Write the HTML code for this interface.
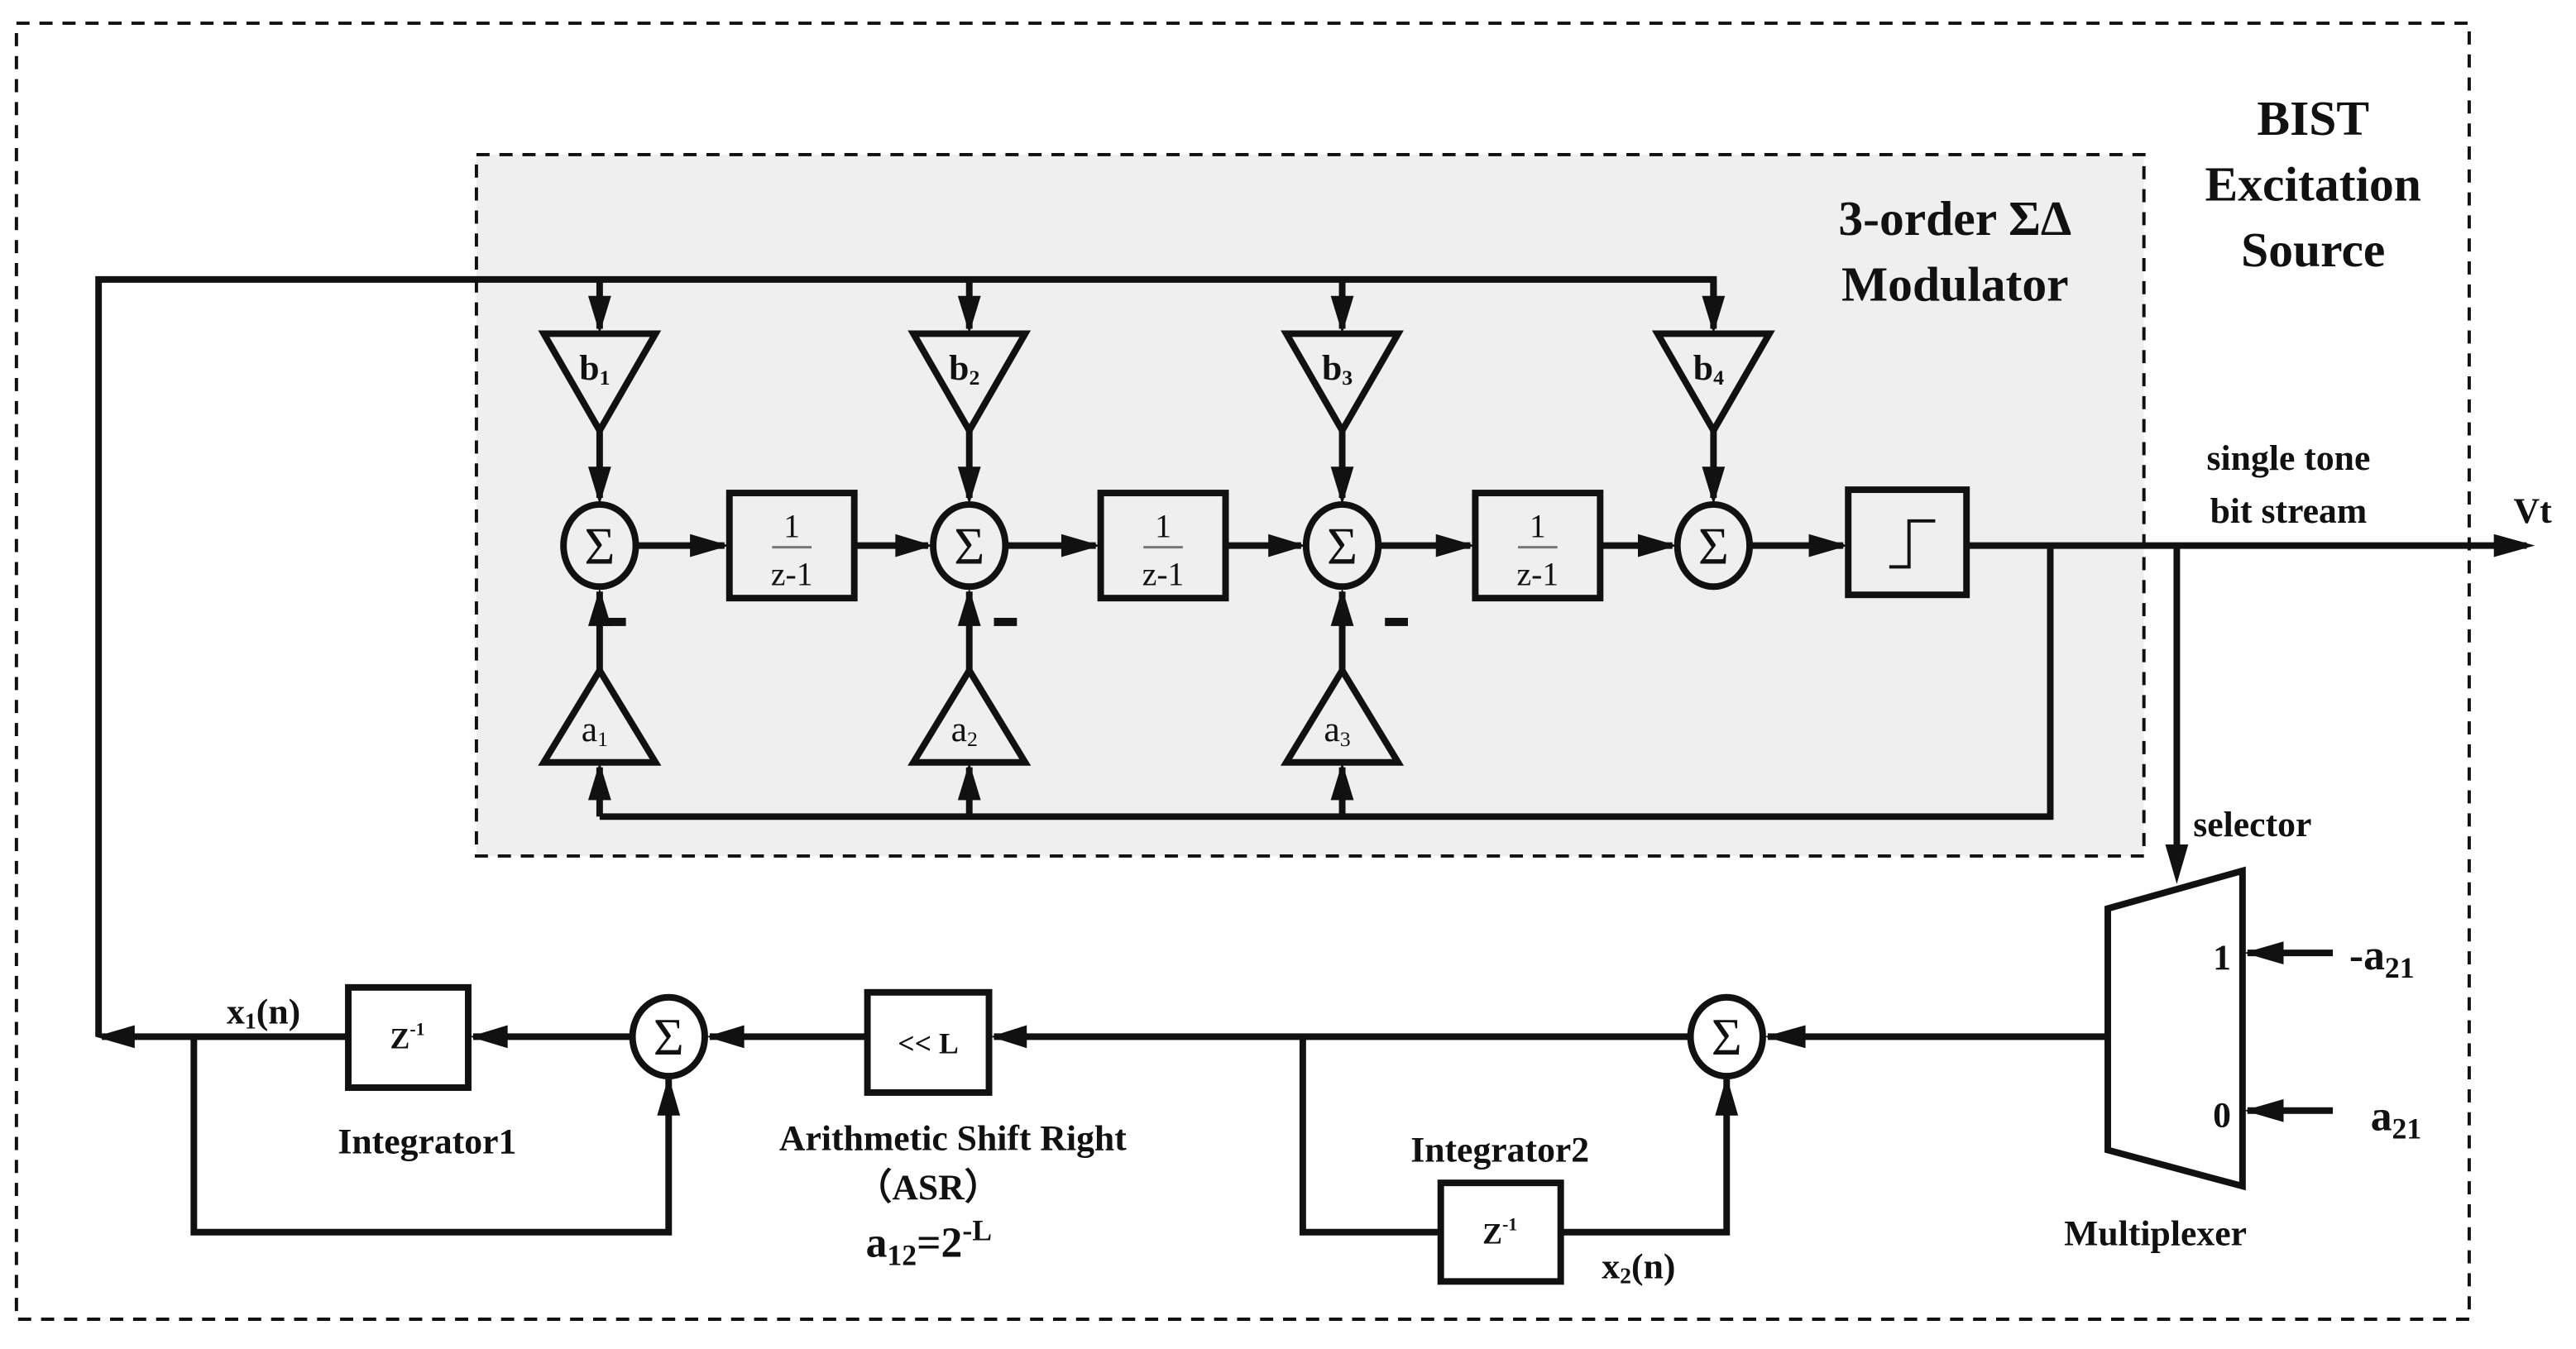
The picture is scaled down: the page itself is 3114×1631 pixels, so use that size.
<!DOCTYPE html>
<html><head><meta charset="utf-8"><style>
html,body{margin:0;padding:0;background:#fff}
svg{display:block}
text{font-family:"Liberation Serif",serif;font-weight:bold;fill:#111}
</style></head><body>
<svg width="3114" height="1631" viewBox="0 0 1568 821" xmlns="http://www.w3.org/2000/svg">
<g fill="none" stroke="#111">
<rect x="10" y="14" width="1493" height="789" stroke-width="2" stroke-dasharray="8,6"/>
<rect x="290" y="94" width="1015" height="427" fill="#efefef" stroke-width="2" stroke-dasharray="8,6"/>
</g>
<g stroke="#111" stroke-width="4" fill="none">
<polyline points="60,631 60,170 1043,170 1043,180"/>
<path d="M365,170 V200 M590,170 V200 M817,170 V200 M1043,170 V200"/>
<polygon points="331,203 399,203 365,262"/>
<polygon points="556,203 624,203 590,262"/>
<polygon points="783,203 851,203 817,262"/>
<polygon points="1009,203 1077,203 1043,262"/>
<path d="M365,262 V303 M590,262 V303 M817,262 V303 M1043,262 V303"/>
<ellipse cx="365" cy="332" rx="22" ry="25"/>
<ellipse cx="590" cy="332" rx="22" ry="25"/>
<ellipse cx="817" cy="332" rx="22" ry="25"/>
<ellipse cx="1043" cy="332" rx="22" ry="25"/>
<rect x="444" y="300" width="76" height="64"/>
<rect x="670" y="300" width="76" height="64"/>
<rect x="898" y="300" width="76" height="64"/>
<rect x="1125" y="298" width="72" height="64"/>
<path d="M387,332 H441 M520,332 H565 M612,332 H667 M746,332 H792 M839,332 H895 M974,332 H1018 M1065,332 H1122"/>
<path d="M1197,332 H1538"/>
<polygon points="331,464 399,464 365,408"/>
<polygon points="556,464 624,464 590,408"/>
<polygon points="783,464 851,464 817,408"/>
<path d="M365,408 V360 M590,408 V360 M817,408 V360"/>
<path d="M365,497 V467 M590,497 V467 M817,497 V467"/>
<polyline points="365,497 1248,497 1248,332"/>
<path d="M1325,332 V521"/>
<polygon points="1283,553 1365,530 1365,722 1283,700"/>
<path d="M1420,580 H1368 M1420,676 H1368"/>
<path d="M1283,631 H1076 M1029,631 H605 M528,631 H432 M385,631 H288 M212,631 H62"/>
<ellipse cx="1051" cy="631" rx="22" ry="24"/>
<ellipse cx="407" cy="631" rx="22" ry="24"/>
<rect x="528" y="604" width="74" height="61"/>
<rect x="212" y="601" width="73" height="61"/>
<rect x="877" y="720" width="73" height="60"/>
<polyline points="118,631 118,750 407,750 407,657"/>
<polyline points="793,631 793,750 877,750"/>
<polyline points="950,750 1051,750 1051,657"/>
</g>
<g fill="#111">
<path d="M358,180 L372,180 L365,203z M583,180 L597,180 L590,203z M810,180 L824,180 L817,203z M1036,180 L1050,180 L1043,203z"/>
<path d="M358,284 L372,284 L365,307z M583,284 L597,284 L590,307z M810,284 L824,284 L817,307z M1036,284 L1050,284 L1043,307z"/>
<path d="M358,381 L372,381 L365,358z M583,381 L597,381 L590,358z M810,381 L824,381 L817,358z"/>
<path d="M358,487 L372,487 L365,464z M583,487 L597,487 L590,464z M810,487 L824,487 L817,464z"/>
<path d="M420,325 L420,339 L444,332z M646,325 L646,339 L670,332z M545,325 L545,339 L568,332z M772,325 L772,339 L795,332z M874,325 L874,339 L898,332z M997,325 L997,339 L1021,332z M1101,325 L1101,339 L1125,332z"/>
<path d="M1518,325 L1518,339 L1543,332z"/>
<path d="M1318,514 L1332,514 L1325,538z"/>
<path d="M1390,573 L1390,587 L1366,580z M1390,669 L1390,683 L1366,676z"/>
<path d="M1099,624 L1099,638 L1074,631z M625,624 L625,638 L603,631z M453,624 L453,638 L430,631z M309,624 L309,638 L286,631z M82,624 L82,638 L58,631z"/>
<path d="M400,679 L414,679 L407,655z M1044,679 L1058,679 L1051,655z"/>
<rect x="367" y="376" width="14" height="5"/><rect x="605" y="376" width="14" height="5"/><rect x="843" y="376" width="14" height="5"/>
</g>
<path d="M1150,345 H1162 V317 H1178" stroke="#111" stroke-width="2" fill="none"/>
<g font-size="32" text-anchor="middle" style="font-weight:normal">
<text x="365" y="343" style="font-weight:normal">Σ</text><text x="590" y="343" style="font-weight:normal">Σ</text><text x="817" y="343" style="font-weight:normal">Σ</text><text x="1043" y="343" style="font-weight:normal">Σ</text>
<text x="1051" y="642" style="font-weight:normal">Σ</text><text x="407" y="642" style="font-weight:normal">Σ</text>
</g>
<g font-size="20" text-anchor="middle">
<text x="482" y="327" style="font-weight:normal">1</text><text x="482" y="356" style="font-weight:normal">z-1</text>
<text x="708" y="327" style="font-weight:normal">1</text><text x="708" y="356" style="font-weight:normal">z-1</text>
<text x="936" y="327" style="font-weight:normal">1</text><text x="936" y="356" style="font-weight:normal">z-1</text>
</g>
<path d="M470,333 H494 M696,333 H720 M924,333 H948" stroke="#777" stroke-width="1.5"/>
<g font-size="22" text-anchor="middle">
<text x="362" y="231">b<tspan font-size="13" dy="3">1</tspan></text>
<text x="587" y="231">b<tspan font-size="13" dy="3">2</tspan></text>
<text x="814" y="231">b<tspan font-size="13" dy="3">3</tspan></text>
<text x="1040" y="231">b<tspan font-size="13" dy="3">4</tspan></text>
<text x="362" y="451" style="font-weight:normal">a<tspan font-size="13" dy="3">1</tspan></text>
<text x="587" y="451" style="font-weight:normal">a<tspan font-size="13" dy="3">2</tspan></text>
<text x="814" y="451" style="font-weight:normal">a<tspan font-size="13" dy="3">3</tspan></text>
<text x="565" y="641" font-size="18">&lt;&lt; L</text>
<text x="248" y="638" font-size="18">Z<tspan font-size="11" dy="-8">-1</tspan></text>
<text x="913" y="757" font-size="18">Z<tspan font-size="11" dy="-8">-1</tspan></text>
</g>
<g font-size="30" text-anchor="middle">
<text x="1408" y="82">BIST</text>
<text x="1408" y="122">Excitation</text>
<text x="1408" y="162">Source</text>
<text x="1190" y="143">3-order ΣΔ</text>
<text x="1190" y="183">Modulator</text>
</g>
<g font-size="22">
<text x="1393" y="286" text-anchor="middle">single tone</text>
<text x="1393" y="318" text-anchor="middle">bit stream</text>
<text x="1530" y="318">Vt</text>
<text x="1335" y="509">selector</text>
<text x="1347" y="590">1</text>
<text x="1347" y="686">0</text>
<text x="1430" y="590" font-size="26">-a<tspan font-size="18" dy="5">21</tspan></text>
<text x="1443" y="688" font-size="26">a<tspan font-size="18" dy="5">21</tspan></text>
<text x="1312" y="758" text-anchor="middle">Multiplexer</text>
<text x="138" y="623">x<tspan font-size="14" dy="3">1</tspan><tspan dy="-3">(n)</tspan></text>
<text x="260" y="702" text-anchor="middle">Integrator1</text>
<text x="580" y="700" text-anchor="middle">Arithmetic Shift Right</text>
<text x="565" y="730" text-anchor="middle">（ASR）</text>
<text x="527" y="765" font-size="26">a<tspan font-size="18" dy="5">12</tspan><tspan dy="-5">=2</tspan><tspan font-size="18" dy="-10">-L</tspan></text>
<text x="913" y="707" text-anchor="middle">Integrator2</text>
<text x="975" y="778">x<tspan font-size="14" dy="3">2</tspan><tspan dy="-3">(n)</tspan></text>
</g>
</svg>
</body></html>
